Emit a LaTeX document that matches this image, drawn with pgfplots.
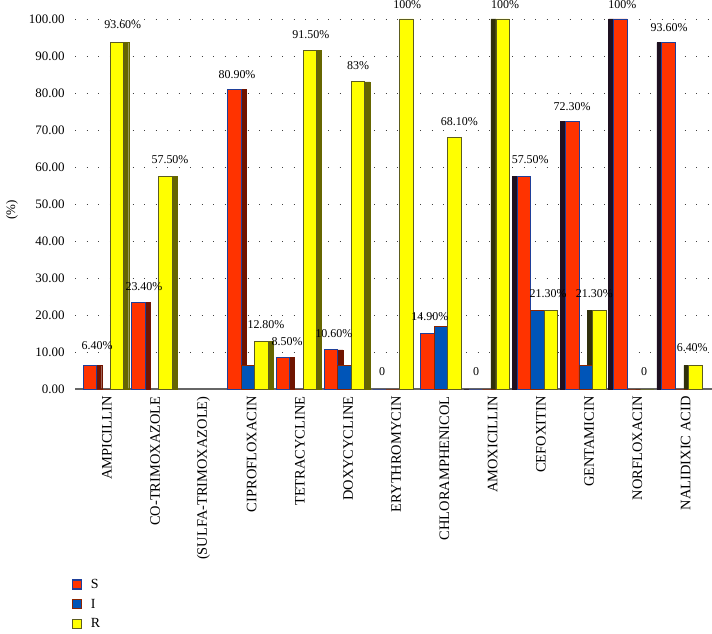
\documentclass[border=0pt]{standalone}
\usepackage{fontspec}
\setmainfont{Liberation Serif}
\usepackage{pgfplots}
\usepackage{pgfplotstable}
\pgfplotsset{compat=1.18}

\definecolor{Sred}{HTML}{FF3300}
\definecolor{Sedge}{HTML}{1F3F99}
\definecolor{Iblue}{HTML}{0055B8}
\definecolor{Iedge}{HTML}{8B2500}
\definecolor{Ryel}{HTML}{FFFF00}
\definecolor{Redge}{HTML}{5C5C20}
\definecolor{Sside}{HTML}{701400}
\definecolor{Sside2}{HTML}{1E1020}
\definecolor{Rside}{HTML}{666600}
\definecolor{Rside2}{HTML}{30300C}

\pgfplotstableread{
x S I R
0 6.4 0 93.6
1 23.4 nan 57.5
3 80.9 6.4 12.8
4 8.5 0 91.5
5 10.6 6.4 83
6 0 0 100
7 14.9 17.0 68.1
8 0 0 100
9 57.5 21.3 21.3
10 72.3 6.4 21.3
11 100 0 0
12 93.6 0 6.4
}\datatable

\pgfplotstableread{
x S R
0 6.4 93.6
1 23.4 57.5
3 80.9 12.8
4 8.5 91.5
5 10.6 83
}\sideL

\pgfplotstableread{
x S R
8 0 100
9 57.5 21.3
10 72.3 21.3
11 100 0
12 93.6 6.4
}\sideR

\begin{document}
\begin{tikzpicture}
\begin{axis}[
  at={(75bp,245bp)}, anchor=south west,
  scale only axis, width=637bp, height=370bp,
  xmin=-0.59, xmax=12.62, ymin=0, ymax=100,
  ybar, bar width=13.5bp,
  clip=false,
  axis x line*=bottom, axis y line*=left,
  x axis line style={draw=black!60, line width=1.5bp},
  y axis line style={draw=none},
  major tick length=0pt,
  xtick={0,1,...,12},
  xticklabels={AMPICILLIN,CO-TRIMOXAZOLE,(SULFA-TRIMOXAZOLE),CIPROFLOXACIN,TETRACYCLINE,DOXYCYCLINE,ERYTHROMYCIN,CHLORAMPHENICOL,AMOXICILLIN,CEFOXITIN,GENTAMICIN,NORFLOXACIN,NALIDIXIC ACID},
  xticklabel style={yshift=-4bp, xshift=3.5bp, rotate=90, anchor=east, font=\fontsize{14.5}{16}\selectfont},
  ytick={0,10,...,100},
  yticklabel style={xshift=-7bp, font=\fontsize{13}{15}\selectfont},
  /pgf/number format/assume math mode=true,
  /pgf/number format/.cd, fixed, fixed zerofill, precision=2, /pgfplots/.cd,
  ymajorgrids,
  major grid style={dash pattern=on 1bp off 10.5bp, black!75, line width=0.9bp},
  ylabel={(\%)},
  ylabel style={at={(axis description cs:-0.099,0.484)}, anchor=center, font=\fontsize{13}{15}\selectfont},
  legend image code/.code={\draw[#1, line width=1.4bp] (0bp,-4.5bp) rectangle (9bp,4.5bp);},
  legend style={draw=none, fill=none, inner sep=0pt, at={(axis description cs:-0.0057,-0.508)}, anchor=north west,
    font=\fontsize{14}{16}\selectfont, row sep=5bp, column sep=7bp, legend cell align=left},
]
% side faces (left part of the chart: faces on the right)
\addplot[forget plot, fill=Sside, draw=Sside, bar width=5bp, bar shift=-4.25bp] table[x=x,y=S] {\sideL};
\addplot[forget plot, fill=Rside, draw=Rside, bar width=5bp, bar shift=22.75bp] table[x=x,y=R] {\sideL};
% side faces (right part of the chart: faces on the left)
\addplot[forget plot, fill=Sside2, draw=Sside2, bar width=5bp, bar shift=-22.75bp] table[x=x,y=S] {\sideR};
\addplot[forget plot, fill=Rside2, draw=Rside2, bar width=5bp, bar shift=4.25bp] table[x=x,y=R] {\sideR};
% main bars
\addplot[fill=Sred, draw=Sedge, line width=0.8bp, bar shift=-13.5bp] table[x=x,y=S] {\datatable};
\addlegendentry{S}
\addplot[fill=Iblue, draw=Iedge, line width=0.8bp, bar shift=0bp] table[x=x,y=I] {\datatable};
\addlegendentry{I}
\addplot[fill=Ryel, draw=Redge, line width=0.8bp, bar shift=13.5bp] table[x=x,y=R] {\datatable};
\addlegendentry{R}

\begin{scope}[every node/.style={font=\fontsize{12}{14}\selectfont, anchor=center, inner sep=0pt}]
\node at (axis cs:-0.13,11.6) {6.40\%};
\node at (axis cs:0.40,98.4) {93.60\%};
\node at (axis cs:0.84,27.8) {23.40\%};
\node at (axis cs:1.38,61.9) {57.50\%};
\node at (axis cs:2.77,85.1) {80.90\%};
\node at (axis cs:3.37,17.3) {12.80\%};
\node at (axis cs:3.81,12.7) {8.50\%};
\node at (axis cs:4.30,95.7) {91.50\%};
\node at (axis cs:4.78,15.1) {10.60\%};
\node at (axis cs:5.28,87.3) {83\%};
\node at (axis cs:5.78,4.6) {0};
\node at (axis cs:6.30,104) {100\%};
\node at (axis cs:6.77,19.5) {14.90\%};
\node at (axis cs:7.38,72.4) {68.10\%};
\node at (axis cs:7.73,4.6) {0};
\node at (axis cs:8.33,104) {100\%};
\node at (axis cs:8.85,61.9) {57.50\%};
\node at (axis cs:9.22,25.7) {21.30\%};
\node at (axis cs:9.72,76.2) {72.30\%};
\node at (axis cs:10.18,25.7) {21.30\%};
\node at (axis cs:10.76,104) {100\%};
\node at (axis cs:11.21,4.6) {0};
\node at (axis cs:11.73,97.8) {93.60\%};
\node at (axis cs:12.21,11.1) {6.40\%};
\end{scope}
\end{axis}
\pgfresetboundingbox
\useasboundingbox (0,0) rectangle (712bp,634bp);
\end{tikzpicture}
\end{document}
